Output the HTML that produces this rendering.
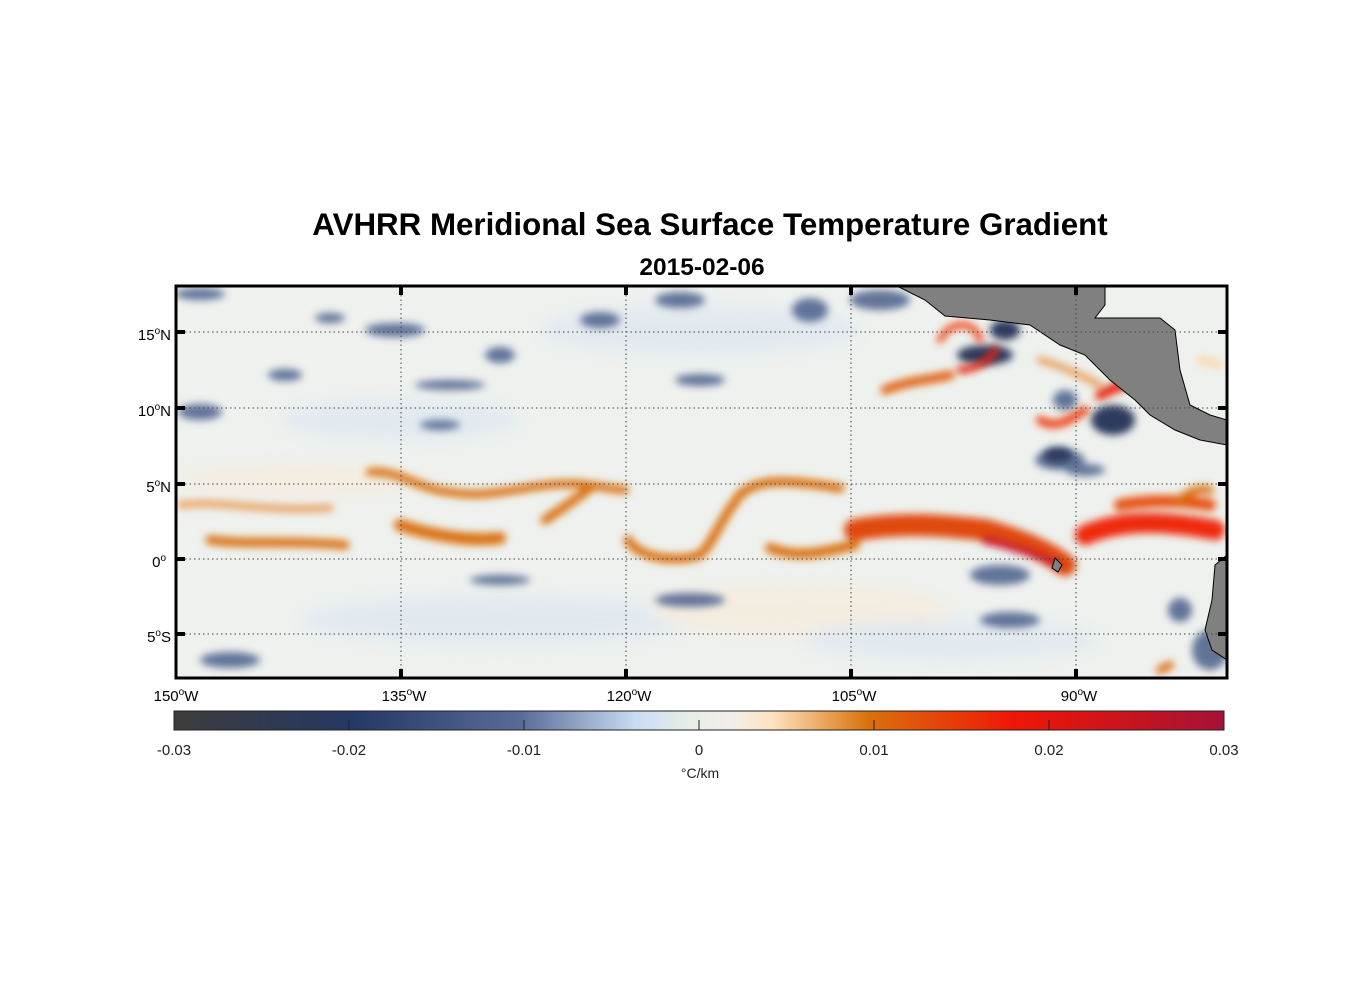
<!DOCTYPE html>
<html><head><meta charset="utf-8"><style>
body{margin:0;background:#fff;width:1356px;height:1000px;overflow:hidden;font-family:"Liberation Sans",Arial,sans-serif}
</style></head><body>
<svg width="1356" height="1000" viewBox="0 0 1356 1000" xmlns="http://www.w3.org/2000/svg" font-family="Liberation Sans, Arial, sans-serif">
<defs>
<linearGradient id="cb" x1="0" x2="1" y1="0" y2="0">
<stop offset="0" stop-color="#3c3c3c"/><stop offset="0.17" stop-color="#243864"/>
<stop offset="0.33" stop-color="#5a6c96"/><stop offset="0.44" stop-color="#c8dcf3"/>
<stop offset="0.49" stop-color="#e6eee6"/><stop offset="0.53" stop-color="#f1efe9"/>
<stop offset="0.57" stop-color="#fde3bf"/><stop offset="0.66" stop-color="#d9720c"/>
<stop offset="0.8" stop-color="#f01606"/><stop offset="1" stop-color="#a41236"/>
</linearGradient>
<filter id="bl" x="-20%" y="-50%" width="140%" height="200%"><feGaussianBlur stdDeviation="4"/></filter>
<filter id="bl2" x="-20%" y="-50%" width="140%" height="200%"><feGaussianBlur stdDeviation="8"/></filter>
<clipPath id="cp"><rect x="176" y="286" width="1051" height="392"/></clipPath>
</defs>
<text x="710" y="235" text-anchor="middle" font-size="31.3" font-weight="bold">AVHRR Meridional Sea Surface Temperature Gradient</text>
<text x="702" y="275" text-anchor="middle" font-size="24.5" font-weight="bold">2015-02-06</text>
<g clip-path="url(#cp)">
<rect x="176" y="286" width="1051" height="392" fill="#eef1ee"/>
<g filter="url(#bl2)" opacity="0.5">
<ellipse cx="400" cy="420" rx="120" ry="20" fill="#d6e2f2"/>
<ellipse cx="700" cy="330" rx="160" ry="25" fill="#d6e2f2"/>
<ellipse cx="500" cy="620" rx="200" ry="25" fill="#d6e2f2"/>
<ellipse cx="800" cy="610" rx="150" ry="25" fill="#fbe8d2"/>
<ellipse cx="300" cy="480" rx="120" ry="15" fill="#fbe8d2"/>
<ellipse cx="950" cy="640" rx="150" ry="20" fill="#d6e2f2"/>
</g>
<g filter="url(#bl)" fill="#4a5f8a" opacity="0.85">
<ellipse cx="200" cy="294" rx="25" ry="6"/>
<ellipse cx="395" cy="330" rx="30" ry="7"/>
<ellipse cx="330" cy="318" rx="15" ry="5"/>
<ellipse cx="285" cy="375" rx="17" ry="6"/>
<ellipse cx="200" cy="412" rx="22" ry="8"/>
<ellipse cx="450" cy="385" rx="35" ry="5"/>
<ellipse cx="500" cy="355" rx="15" ry="8"/>
<ellipse cx="600" cy="320" rx="20" ry="8"/>
<ellipse cx="680" cy="300" rx="25" ry="8"/>
<ellipse cx="810" cy="310" rx="18" ry="12"/>
<ellipse cx="880" cy="300" rx="30" ry="10"/>
<ellipse cx="440" cy="425" rx="20" ry="5"/>
<ellipse cx="700" cy="380" rx="25" ry="6"/>
<ellipse cx="690" cy="600" rx="35" ry="7"/>
<ellipse cx="230" cy="660" rx="30" ry="8"/>
<ellipse cx="500" cy="580" rx="30" ry="5"/>
<ellipse cx="1000" cy="575" rx="30" ry="10"/>
<ellipse cx="1010" cy="620" rx="30" ry="8"/>
<ellipse cx="1060" cy="460" rx="25" ry="10"/>
<ellipse cx="1085" cy="470" rx="20" ry="6"/>
<ellipse cx="1210" cy="650" rx="18" ry="20"/>
<ellipse cx="1180" cy="610" rx="12" ry="12"/>
<ellipse cx="1065" cy="400" rx="12" ry="10"/>
</g>
<g filter="url(#bl)" fill="#2e3b5e">
<ellipse cx="1113" cy="420" rx="22" ry="15"/>
<ellipse cx="985" cy="355" rx="28" ry="10"/>
<ellipse cx="1005" cy="330" rx="15" ry="10"/>
<ellipse cx="1058" cy="455" rx="15" ry="8"/>
</g>
<g filter="url(#bl)" fill="none" stroke-linecap="round">
<path d="M180 505 C220 500 260 512 330 508" stroke="#e9a060" stroke-width="7"/>
<path d="M210 540 C250 545 290 540 345 545" stroke="#d9700f" stroke-width="9"/>
<path d="M370 472 C400 470 420 490 450 492 C480 498 510 490 540 486 C580 480 600 488 625 490" stroke="#d9700f" stroke-width="8"/>
<path d="M400 525 C430 535 470 542 500 538" stroke="#d9700f" stroke-width="12"/>
<path d="M545 520 C560 510 575 500 590 488" stroke="#d9700f" stroke-width="9"/>
<path d="M628 540 C640 560 680 562 700 555 C715 540 720 520 740 495 C755 480 780 478 840 488" stroke="#d9700f" stroke-width="9"/>
<path d="M770 548 C800 560 830 550 855 545" stroke="#d9700f" stroke-width="10"/>
<path d="M855 530 C900 522 940 525 985 530 C1020 540 1045 550 1065 565" stroke="#e04a0a" stroke-width="22"/>
<path d="M985 540 C1010 545 1040 555 1058 565" stroke="#c8102a" stroke-width="8"/>
<path d="M1085 535 C1120 520 1160 520 1215 530" stroke="#ef2a0a" stroke-width="20"/>
<path d="M1120 505 C1150 500 1180 500 1210 505" stroke="#e8500a" stroke-width="12"/>
<path d="M885 390 C910 380 930 380 950 375" stroke="#e06010" stroke-width="9"/>
<path d="M940 340 C950 320 975 320 980 340" stroke="#ef3a0a" stroke-width="6"/>
<path d="M960 370 C975 370 990 360 995 350" stroke="#e8200a" stroke-width="7"/>
<path d="M1040 420 C1055 430 1070 420 1085 410" stroke="#ef3a0a" stroke-width="8"/>
<path d="M1040 360 C1060 365 1080 375 1100 385" stroke="#e9a060" stroke-width="7"/>
<path d="M1100 395 C1110 390 1120 385 1125 385" stroke="#e8200a" stroke-width="10"/>
<path d="M1180 500 C1190 490 1200 488 1210 490" stroke="#d9700f" stroke-width="8"/>
<path d="M1160 670 L1170 665" stroke="#d9700f" stroke-width="8"/>
<path d="M1200 360 L1220 365" stroke="#fbd8b0" stroke-width="8"/>
</g>
<path d="M897 286 L925 300 L945 316 L990 320 L1030 325 L1060 345 L1085 355 L1110 380 L1135 400 L1150 415 L1175 430 L1200 440 L1227 445 L1227 420 L1210 415 L1190 405 L1180 370 L1175 330 L1160 318 L1125 318 L1095 318 L1105 305 L1105 286 Z" fill="#808080" stroke="#000" stroke-width="1"/>
<path d="M1227 555 L1215 565 L1212 600 L1205 630 L1212 650 L1227 660 Z" fill="#808080" stroke="#000" stroke-width="1"/>
<path d="M1055 558 L1062 565 L1058 572 L1052 568 Z" fill="#808080" stroke="#000" stroke-width="1"/>
<g stroke="#444" stroke-width="1" stroke-dasharray="1.5,3">
<line x1="401" y1="286" x2="401" y2="678"/><line x1="626" y1="286" x2="626" y2="678"/>
<line x1="851" y1="286" x2="851" y2="678"/><line x1="1076" y1="286" x2="1076" y2="678"/>
<line x1="176" y1="332" x2="1227" y2="332"/><line x1="176" y1="408" x2="1227" y2="408"/>
<line x1="176" y1="484" x2="1227" y2="484"/><line x1="176" y1="559" x2="1227" y2="559"/>
<line x1="176" y1="634" x2="1227" y2="634"/>
</g>
</g>
<rect x="176" y="286" width="1051" height="392" fill="none" stroke="#000" stroke-width="3"/>
<g stroke="#000" stroke-width="4">
<line x1="401" y1="286" x2="401" y2="295"/><line x1="626" y1="286" x2="626" y2="295"/><line x1="851" y1="286" x2="851" y2="295"/><line x1="1076" y1="286" x2="1076" y2="295"/>
<line x1="401" y1="678" x2="401" y2="669"/><line x1="626" y1="678" x2="626" y2="669"/><line x1="851" y1="678" x2="851" y2="669"/><line x1="1076" y1="678" x2="1076" y2="669"/>
<line x1="176" y1="332" x2="185" y2="332"/><line x1="176" y1="408" x2="185" y2="408"/><line x1="176" y1="484" x2="185" y2="484"/><line x1="176" y1="559" x2="185" y2="559"/><line x1="176" y1="634" x2="185" y2="634"/>
<line x1="1227" y1="332" x2="1218" y2="332"/><line x1="1227" y1="408" x2="1218" y2="408"/><line x1="1227" y1="484" x2="1218" y2="484"/><line x1="1227" y1="559" x2="1218" y2="559"/><line x1="1227" y1="634" x2="1218" y2="634"/>
</g>
<g font-size="15" text-anchor="end">
<text x="171" y="340">15<tspan dy="-6" font-size="10">o</tspan><tspan dy="6">N</tspan></text>
<text x="171" y="416">10<tspan dy="-6" font-size="10">o</tspan><tspan dy="6">N</tspan></text>
<text x="171" y="492">5<tspan dy="-6" font-size="10">o</tspan><tspan dy="6">N</tspan></text>
<text x="166" y="567">0<tspan dy="-6" font-size="10">o</tspan></text>
<text x="171" y="642">5<tspan dy="-6" font-size="10">o</tspan><tspan dy="6">S</tspan></text>
</g>
<g font-size="15" text-anchor="middle">
<text x="176" y="701">150<tspan dy="-6" font-size="10">o</tspan><tspan dy="6">W</tspan></text>
<text x="404" y="701">135<tspan dy="-6" font-size="10">o</tspan><tspan dy="6">W</tspan></text>
<text x="629" y="701">120<tspan dy="-6" font-size="10">o</tspan><tspan dy="6">W</tspan></text>
<text x="854" y="701">105<tspan dy="-6" font-size="10">o</tspan><tspan dy="6">W</tspan></text>
<text x="1079" y="701">90<tspan dy="-6" font-size="10">o</tspan><tspan dy="6">W</tspan></text>
</g>
<rect x="174" y="711" width="1050" height="19" fill="url(#cb)" stroke="#222" stroke-width="1"/>
<g stroke="#222" stroke-width="1">
<line x1="349" y1="720" x2="349" y2="730"/><line x1="524" y1="720" x2="524" y2="730"/><line x1="699" y1="720" x2="699" y2="730"/><line x1="874" y1="720" x2="874" y2="730"/><line x1="1049" y1="720" x2="1049" y2="730"/>
</g>
<g font-size="15" text-anchor="middle" fill="#222">
<text x="174" y="755">-0.03</text><text x="349" y="755">-0.02</text><text x="524" y="755">-0.01</text>
<text x="699" y="755">0</text><text x="874" y="755">0.01</text><text x="1049" y="755">0.02</text><text x="1224" y="755">0.03</text>
<text x="700" y="778" font-size="14">°C/km</text>
</g>
</svg>
</body></html>
